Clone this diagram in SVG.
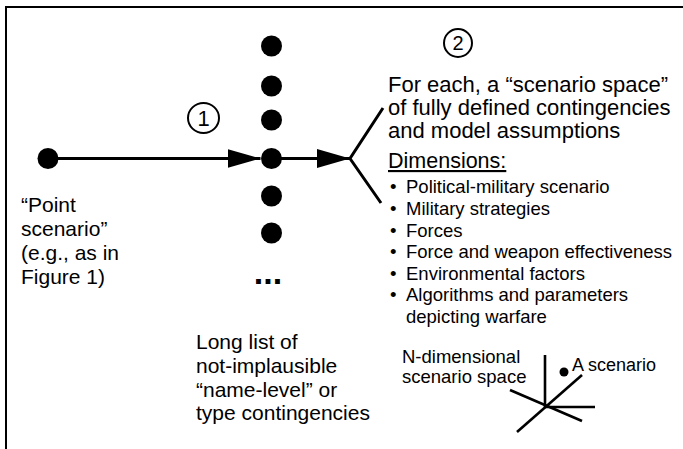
<svg xmlns="http://www.w3.org/2000/svg" width="683" height="449" viewBox="0 0 683 449">
<style>
text{font-family:"Liberation Sans",Arial,Helvetica,sans-serif;fill:#000}
.big{font-size:22px}
.med{font-size:21px}
.lst{font-size:18.5px}
.sm{font-size:18.5px}
.ln{stroke:#000;stroke-width:3;fill:none}
.gl{stroke:#000;stroke-width:2.6;fill:none}
.dot{fill:#000}
.num{fill:#fff;stroke:#000;stroke-width:2}
</style>
<defs>
<marker id="ah" markerUnits="userSpaceOnUse" markerWidth="34" markerHeight="20" refX="33" refY="9.5" orient="auto">
<path d="M0,0 L33,9.5 L0,19 Z" fill="#000"/>
</marker>
</defs>
<g id="frame">
<path d="M6,449 V7 H683" stroke="#000" stroke-width="2" fill="none"/>
</g>
<g id="connectors">
<line class="ln" x1="48" y1="158.5" x2="260.5" y2="158.5" marker-end="url(#ah)"/>
<line class="ln" x1="271.5" y1="158.5" x2="350" y2="158.5" marker-end="url(#ah)"/>
<polyline class="ln" points="383,108 350,158.5 381,203"/>
</g>
<g id="point-scenario">
<circle class="dot" cx="48" cy="158.5" r="10.5"/>
<text class="med" x="21" y="211.5">“Point</text>
<text class="med" x="21" y="236">scenario”</text>
<text class="med" x="21" y="260">(e.g., as in</text>
<text class="med" x="21" y="284">Figure 1)</text>
</g>
<g id="step1">
<ellipse class="num" cx="203.5" cy="118" rx="15.5" ry="15"/>
<text class="big" x="203.5" y="125.5" text-anchor="middle" font-size="20">1</text>
</g>
<g id="contingency-list">
<circle class="dot" cx="271.5" cy="46" r="10.5"/>
<circle class="dot" cx="271.5" cy="86" r="10.5"/>
<circle class="dot" cx="271.5" cy="120" r="10.5"/>
<circle class="dot" cx="271.5" cy="158.5" r="10.5"/>
<circle class="dot" cx="271.5" cy="196" r="10.5"/>
<circle class="dot" cx="271.5" cy="233" r="10.5"/>
<text x="268" y="284" text-anchor="middle" font-size="34" font-weight="bold">...</text>
<text class="med" x="196" y="349">Long list of</text>
<text class="med" x="196" y="373">not-implausible</text>
<text class="med" x="196" y="397">“name-level” or</text>
<text class="med" x="196" y="420">type contingencies</text>
</g>
<g id="step2">
<circle class="num" cx="458" cy="43" r="14"/>
<text x="458" y="50" text-anchor="middle" font-size="20">2</text>
</g>
<g id="scenario-space">
<text class="big" x="388" y="91.7">For each, a “scenario space”</text>
<text class="big" x="388" y="115">of fully defined contingencies</text>
<text class="big" x="388" y="138.3">and model assumptions</text>
<text x="388" y="168" font-size="21.5" text-decoration="underline">Dimensions:</text>
<g class="lst">
<text x="390" y="193">•</text><text x="406" y="193">Political-military scenario</text>
<text x="390" y="215">•</text><text x="406" y="215">Military strategies</text>
<text x="390" y="236.5">•</text><text x="406" y="236.5">Forces</text>
<text x="390" y="258">•</text><text x="406" y="258">Force and weapon effectiveness</text>
<text x="390" y="279.5">•</text><text x="406" y="279.5">Environmental factors</text>
<text x="390" y="301">•</text><text x="406" y="301">Algorithms and parameters</text>
<text x="406" y="322.5">depicting warfare</text>
</g>
</g>
<g id="n-dim-space">
<text class="sm" x="402" y="363">N-dimensional</text>
<text class="sm" x="402" y="383">scenario space</text>
<line class="gl" x1="545" y1="407" x2="545" y2="355"/>
<line class="gl" x1="545" y1="407" x2="595" y2="407"/>
<line class="gl" x1="510" y1="390" x2="582" y2="421"/>
<line class="gl" x1="517" y1="432" x2="582" y2="375"/>
<circle class="dot" cx="564" cy="372" r="4.5"/>
<text x="572" y="371" font-size="18">A scenario</text>
</g>
</svg>
